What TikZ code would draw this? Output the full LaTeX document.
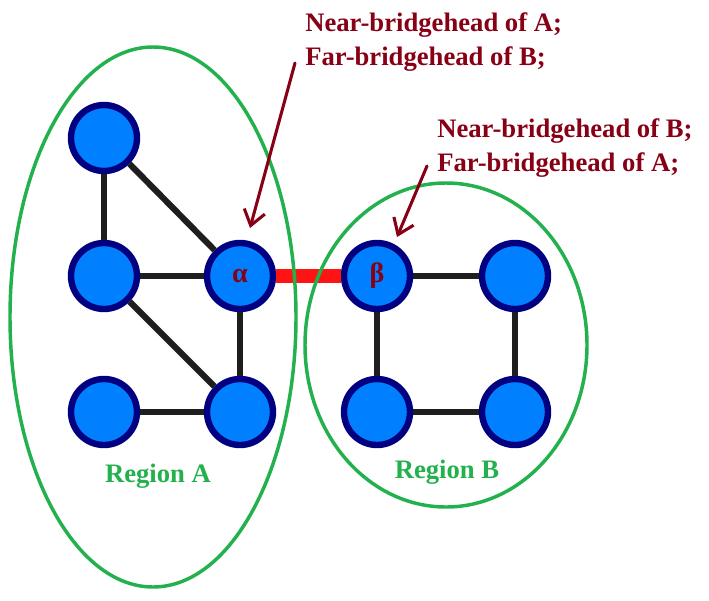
\documentclass[tikz,border=0pt]{standalone}
\usepackage{fontspec}
\setmainfont{Liberation Serif}
\usetikzlibrary{arrows.meta}
\definecolor{vertexblue}{RGB}{0,128,255}
\definecolor{ringnavy}{RGB}{0,0,128}
\definecolor{regiongreen}{RGB}{34,177,76}
\definecolor{notered}{RGB}{136,0,21}
\definecolor{bridgered}{RGB}{255,20,20}
\definecolor{edgeblack}{RGB}{30,30,30}
\begin{document}
\begin{tikzpicture}[x=0.75pt,y=-0.75pt,line cap=round,line join=round,
	vertex/.style={circle,draw=ringnavy,fill=vertexblue,line width=4.8pt,minimum size=49.5pt,inner sep=0pt,
		text=notered,font=\bfseries\fontsize{21}{21}\selectfont},
	link/.style={draw=edgeblack,line width=4.6pt,line cap=butt},
	bridge/.style={draw=bridgered,line width=10.5pt,line cap=butt},
	region/.style={draw=regiongreen,line width=2.6pt},
	note/.style={text=notered,inner sep=3pt,font=\bfseries\fontsize{20}{24}\selectfont},
	pointer/.style={draw=notered,line width=2.3pt,-{Straight Barb[length=11pt,width=16pt,line width=2.3pt]}},
	regionlabel/.style={text=regiongreen,font=\bfseries\fontsize{20}{24}\selectfont}]
	\useasboundingbox (0,0) rectangle (709,600);
	% region A
	\node[vertex] (a1) at (104,138) {};
	\node[vertex] (a2) at (104,276) {};
	\node[vertex] (alpha) at (240,276) {α};
	\node[vertex] (a4) at (104,412) {};
	\node[vertex] (a5) at (240,412) {};
	% region B
	\node[vertex] (beta) at (377,276) {β};
	\node[vertex] (b2) at (515,276) {};
	\node[vertex] (b3) at (377,412) {};
	\node[vertex] (b4) at (515,412) {};
	\draw[link] (a1)--(a2);
	\draw[link] (a1)--(alpha);
	\draw[link] (a2)--(alpha);
	\draw[link] (a2)--(a5);
	\draw[link] (alpha)--(a5);
	\draw[link] (a4)--(a5);
	\draw[link] (beta)--(b2);
	\draw[link] (beta)--(b3);
	\draw[link] (b2)--(b4);
	\draw[link] (b3)--(b4);
	\draw[bridge] (alpha)--(beta);
	\draw[region] (153,317) ellipse [x radius=107.25pt,y radius=202.5pt];
	\draw[region] (446,345) ellipse [x radius=105.75pt,y radius=121.5pt];
	\path
	(158,482)node[regionlabel,anchor=base]{Region A}
	(447,478)node[regionlabel,anchor=base]{Region B}
	(301,42)coordinate(N1)node[note,above right]{Near-bridgehead of A;}node[note,below right]{Far-bridgehead of B;}
	(433,148)coordinate(N2)node[note,above right]{Near-bridgehead of B;}node[note,below right]{Far-bridgehead of A;}
	(295,63)coordinate(P1)
	(250,228)coordinate(T1)
	(427,166)coordinate(P2)
	(397,237)coordinate(T2)
	;
	\draw[pointer](P1)--(T1);
	\draw[pointer](P2)--(T2);
\end{tikzpicture}
\end{document}
